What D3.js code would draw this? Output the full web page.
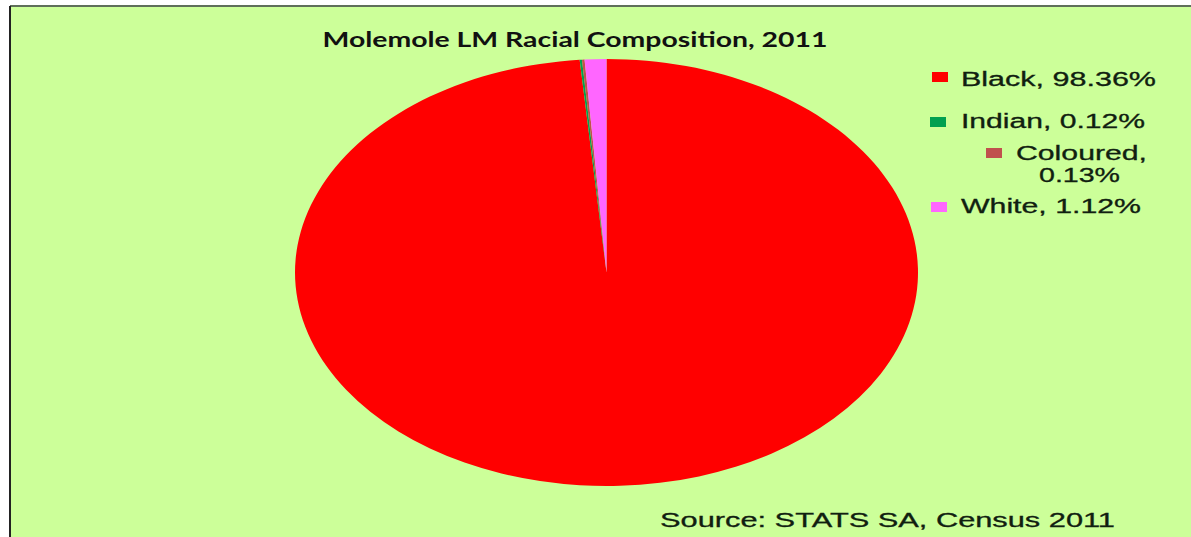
<!DOCTYPE html>
<html><head><meta charset="utf-8">
<script src="https://cdn.jsdelivr.net/npm/d3@7"></script>
<style>html,body{margin:0;padding:0;background:#fff;}svg{display:block;}</style>
</head><body>
<svg id="chart" width="1191" height="537"></svg>
<script>
const categories = ["Black", "Indian", "Coloured", "White"];
const values = [98.36, 0.12, 0.13, 1.12];
const legendLabels = [["Black, 98.36%"], ["Indian, 0.12%"], ["Coloured,", "0.13%"], ["White, 1.12%"]];
const colors = ["#ff0000", "#00a050", "#c0504d", "#ff66ff"];
const title = "Molemole LM Racial Composition, 2011";
const source = "Source: STATS SA, Census 2011";

const svg = d3.select("#chart");
// frame
svg.append("rect").attr("x", 10).attr("y", 6).attr("width", 1181).attr("height", 531).attr("fill", "#ccff99");
svg.append("line").attr("x1", 10).attr("y1", 6).attr("x2", 1191).attr("y2", 6).attr("stroke", "#5f6f5a").attr("stroke-width", 2);
svg.append("line").attr("x1", 10).attr("y1", 6).attr("x2", 10).attr("y2", 537).attr("stroke", "#222").attr("stroke-width", 2);

// title
svg.append("text").attr("x", 575).attr("y", 47).attr("text-anchor", "middle")
  .attr("font-family", "Lato, 'Open Sans', sans-serif").attr("font-weight", "bold").attr("font-size", 20)
  .attr("fill", "#111").attr("textLength", 505).attr("lengthAdjust", "spacingAndGlyphs")
  .text(title);

// pie (elliptical)
const cx = 606.5, cy = 272.5, rx = 311.5, ry = 213.5;
const pie = d3.pie().sort(null).value(d => d)(values);
const arc = d3.arc().innerRadius(0).outerRadius(ry);
const g = svg.append("g").attr("transform", `translate(${cx},${cy}) scale(${rx / ry},1)`);
g.selectAll("path").data(pie).join("path")
  .attr("d", arc).attr("fill", (d, i) => colors[i]);

// legend
const legend = [
  {mx: 932, my: 72, lines: [{x: 961, y: 86, w: 195}]},
  {mx: 930, my: 117, lines: [{x: 961, y: 128, w: 184}]},
  {mx: 986, my: 148, lines: [{x: 1016, y: 160, w: 131}, {x: 1039, y: 182, w: 81}]},
  {mx: 931, my: 202, lines: [{x: 961, y: 213, w: 180}]}
];
legend.forEach((L, i) => {
  svg.append("rect").attr("x", L.mx).attr("y", L.my).attr("width", 16).attr("height", 10).attr("fill", colors[i]);
  L.lines.forEach((ln, j) => {
    svg.append("text").attr("x", ln.x).attr("y", ln.y)
      .attr("font-family", "'Liberation Sans', Arial, sans-serif").attr("font-size", 20)
      .attr("fill", "#102010").attr("stroke", "#102010").attr("stroke-width", 0.3)
      .attr("textLength", ln.w).attr("lengthAdjust", "spacingAndGlyphs")
      .text(legendLabels[i][j]);
  });
});

// source
svg.append("text").attr("x", 660).attr("y", 527)
  .attr("font-family", "'Liberation Sans', Arial, sans-serif").attr("font-size", 20)
  .attr("fill", "#102010").attr("stroke", "#102010").attr("stroke-width", 0.3)
  .attr("textLength", 455).attr("lengthAdjust", "spacingAndGlyphs")
  .text(source);
</script>
</body></html>
